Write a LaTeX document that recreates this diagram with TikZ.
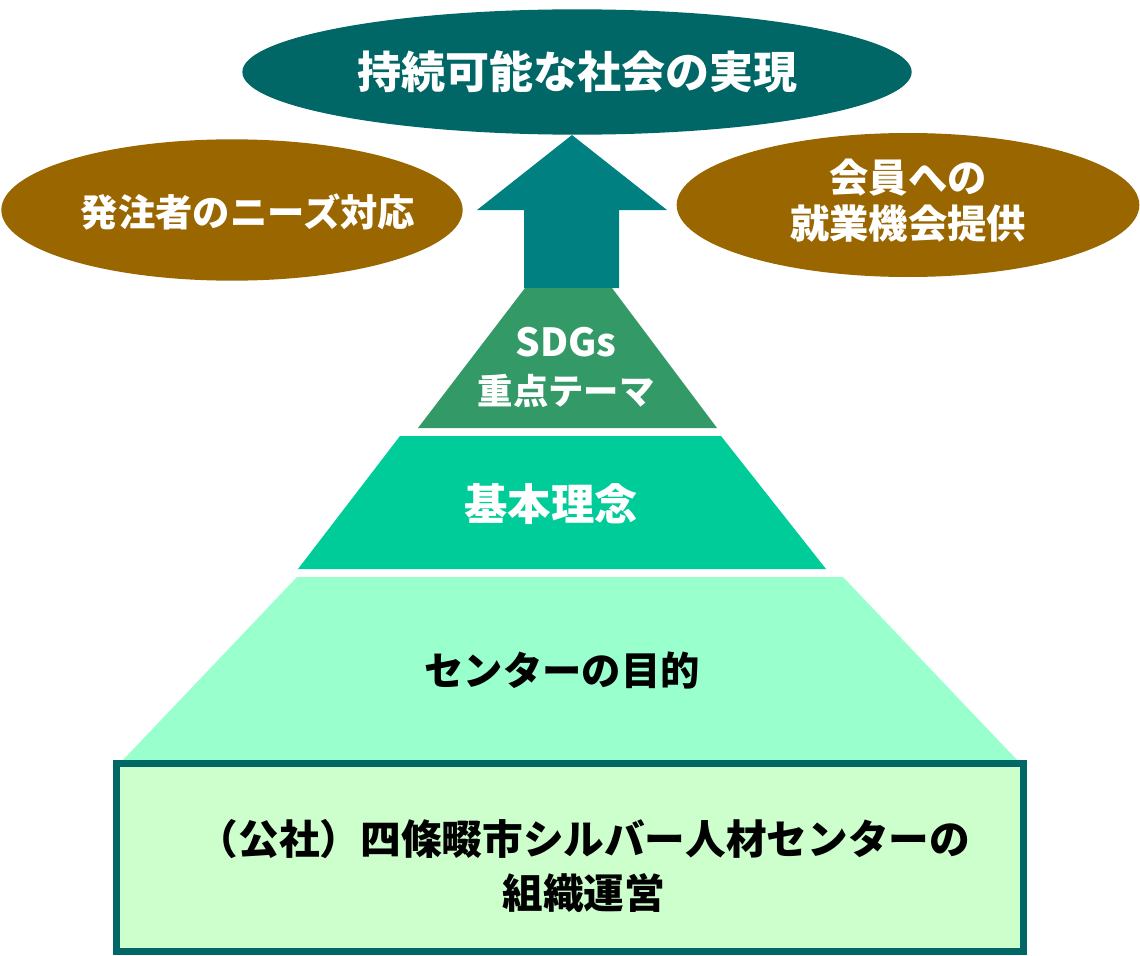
\documentclass[tikz,border=0pt]{standalone}
\usepackage{fontspec}
\setmainfont{Noto Sans CJK JP}
\usepackage{tikz}
\usetikzlibrary{shapes.geometric}
\definecolor{svteal}{RGB}{0,102,102}
\definecolor{svarrow}{RGB}{0,128,128}
\definecolor{svbrown}{RGB}{153,102,0}
\definecolor{svgreen}{RGB}{51,153,102}
\definecolor{svmint}{RGB}{0,204,153}
\definecolor{svlightmint}{RGB}{153,255,204}
\definecolor{svpale}{RGB}{204,255,204}
\tikzset{
  svoval/.style={ellipse, fill=#1, inner sep=0pt},
  svtext/.style n args={2}{text=white, align=center, inner sep=0pt, font=\bfseries\fontsize{#1}{#2}\selectfont},
  svframe/.style={draw=svteal, line width=5.25pt, fill=svpale}
}

\begin{document}
\begin{tikzpicture}[x=.75pt, y=-.75pt]
  \useasboundingbox (0,0) rectangle (1140,956);
  % goals
  \node[svoval=svteal, minimum width=502pt, minimum height=94pt] (goal) at (577,72) {};
  \node[svtext={33pt}{38pt}] (goal-txt) at (goal) {持続可能な社会の実現};
  \node[svoval=svbrown, minimum width=346pt, minimum height=106pt] (needs) at (232,210) {};
  \node[svtext={28pt}{34pt}] (needs-txt) at (248,212) {発注者のニーズ対応};
  \node[svoval=svbrown, minimum width=347pt, minimum height=108pt] (jobs) at (908,205) {};
  \node[svtext={29.5pt}{34.5pt}] (jobs-txt) at (908,201) {会員への\\就業機会提供};
  % arrow up to the goal
  \coordinate (tip) at (572,135);
  \fill[svarrow] (524,288) -- (524,210) -- (477,210) -- (tip) -- (667,210) -- (619,210) -- (619,288) -- cycle;
  % pyramid
  \fill[svgreen] (525,288) -- (612,288) -- (717,428) -- (418,428) -- cycle;
  \fill[svmint] (400,436) -- (721,436) -- (826,569) -- (298,569) -- cycle;
  \fill[svlightmint] (297,577) -- (843,577) -- (1017,760) -- (123,760) -- cycle;
  \node[svtext={26.5pt}{36pt}] (sdgs) at (566,367) {{\fontsize{29pt}{36pt}\selectfont SDGs}\\重点テーマ};
  \node[svtext={32.5pt}{38pt}] (idea) at (551,504) {基本理念};
  \node[svtext={29.5pt}{35pt}, text=black] (purpose) at (562,671) {センターの目的};
  % base
  \node[svframe, minimum width=680pt, minimum height=141pt] (org) at (570,857.5) {};
  \node[svtext={30.5pt}{40pt}, text=black] (org-txt) at (584,866) {（公社）四條畷市シルバー人材センターの\\組織運営};
\end{tikzpicture}
\end{document}
